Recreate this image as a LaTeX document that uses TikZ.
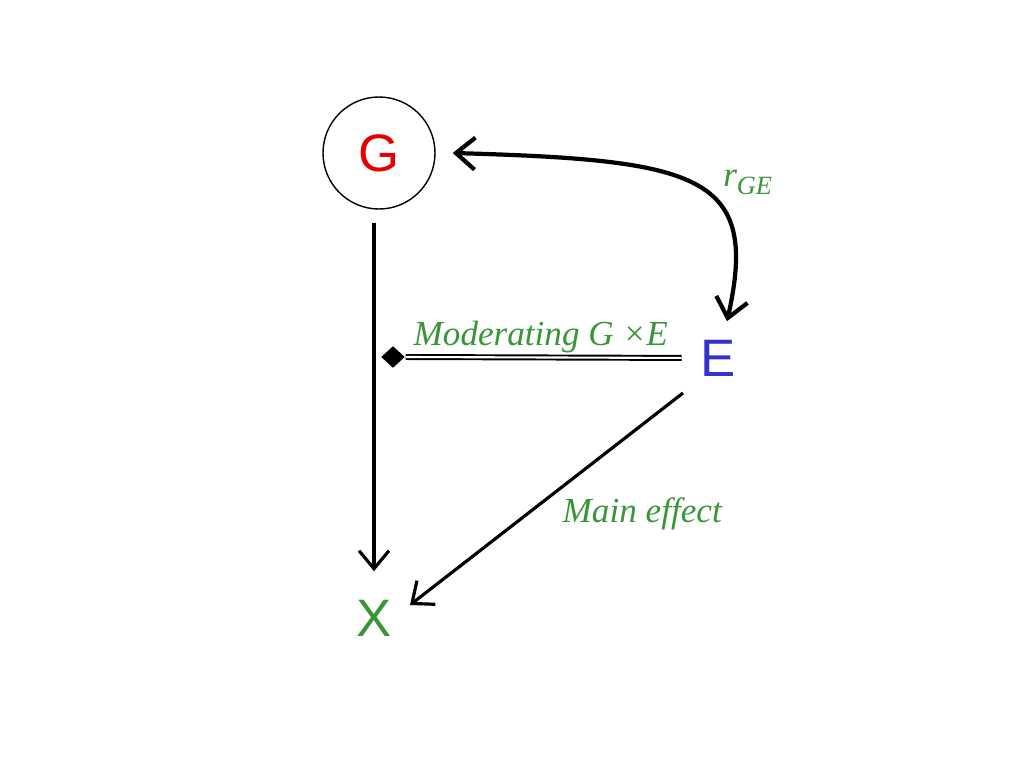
\documentclass[tikz,border=0pt]{standalone}
\usepackage{fontspec}
\setmainfont{Liberation Serif}
\newfontfamily\letterfont{Liberation Sans}
\usetikzlibrary{arrows.meta,shapes.geometric}
\definecolor{labelgreen}{RGB}{56,150,56}
\definecolor{envblue}{RGB}{51,51,204}
\definecolor{generd}{RGB}{230,0,0}
\tikzset{
    varletter/.style={inner sep=0pt, font=\letterfont\fontsize{15}{15}\selectfont},
    latentnode/.style={varletter, draw, circle, minimum size=1.12cm, text=generd},
    effarrow/.style={-{Straight Barb[length=1.8mm,width=3mm]}, line width=0.9pt},
    corrarrow/.style={{Straight Barb[length=1.9mm,width=3.2mm]}-{Straight Barb[length=1.9mm,width=3.2mm]}, line width=1.2pt},
    modline/.style={double, line width=0.55pt, double distance=0.6pt},
    modtip/.style={diamond, fill=black, inner sep=0pt, minimum width=0.24cm, minimum height=0.22cm},
    pathlabel/.style={text=labelgreen, font=\itshape\fontsize{10}{12}\selectfont}
}

\begin{document}
\begin{tikzpicture}
    \useasboundingbox (0,0) rectangle (10.24,-7.68);
    \node[latentnode] (G) at (3.79,-1.53) {G};
    \node[varletter, text=envblue] (E) at (7.18,-3.58) {E};
    \node[varletter, text=labelgreen] (X) at (3.74,-6.18) {X};
    \node[modtip] (dm) at (3.93,-3.57) {};

    \draw[effarrow, shorten <=0.13cm, shorten >=0.28cm] (X.north |- G.south) -- (X.north);
    \draw[modline, shorten <=0.18cm] (E.west) -- node[pathlabel, above=-2.4pt, xshift=-0.12cm] {Moderating G ×E} (dm.east);
    \draw[effarrow] ([shift={(-0.35cm,-0.35cm)}]E.center) -- node[pathlabel, pos=0.57, anchor=west, xshift=0.22cm] {Main effect} ([shift={(0.36cm,0.13cm)}]X.center);
    \draw[corrarrow] ([xshift=0.17cm]G.east) .. controls (7.00,-1.60) and (7.60,-1.75) .. ([shift={(0.09cm,0.18cm)}]E.north) node[pathlabel, pos=0.55, anchor=west, xshift=0.03cm, yshift=0.1cm] {r\raisebox{-0.5ex}{\fontsize{7.5}{8}\selectfont GE}};
\end{tikzpicture}
\end{document}
